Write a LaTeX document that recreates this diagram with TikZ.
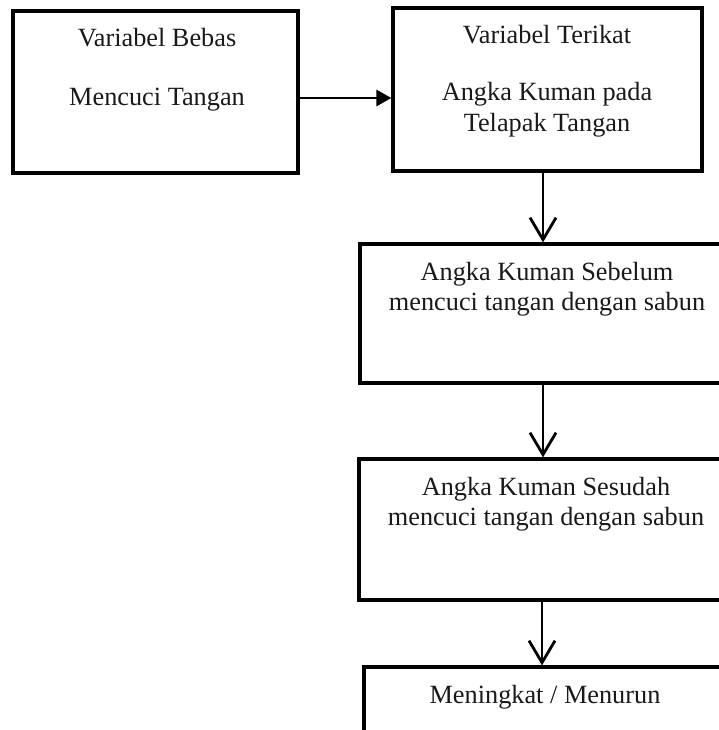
\documentclass[tikz,border=0pt]{standalone}
\usepackage{fontspec}
\setmainfont{Liberation Serif}
\usetikzlibrary{arrows.meta}
\begin{document}
\begin{tikzpicture}[x=1pt,y=-1pt,
  box/.style={draw=black,line width=3.2pt,rectangle,inner sep=0pt},
  lbl/.style={anchor=base,inner sep=0pt,font=\fontsize{26.3}{30}\selectfont,text=black!90},
  conn/.style={line width=2.8pt,draw=black},
  filltip/.style={-{Triangle[length=15pt,width=16pt]}},
  opentip/.style={-{Straight Barb[length=22pt,width=26pt,line width=2.8pt]}}]
\useasboundingbox (0,0) rectangle (719,730);
\clip (0,0) rectangle (719,730);
% boxes
\node[box,minimum width=285pt,minimum height=162pt] (b1) at (155.5,92) {};
\node[box,minimum width=309pt,minimum height=163pt] (b2) at (547.5,89.5) {};
\node[box,minimum width=375pt,minimum height=139pt] (b3) at (547.5,313.5) {};
\node[box,minimum width=377pt,minimum height=141pt] (b4) at (547.5,529.5) {};
\node[box,minimum width=368pt,minimum height=140pt] (b5) at (548,737) {};
% texts
\node[lbl] (t1a) at (157,47) {Variabel Bebas};
\node[lbl] (t1b) at (157,106) {Mencuci Tangan};
\node[lbl] (t2a) at (547,44) {Variabel Terikat};
\node[lbl] (t2b) at (547,101) {Angka Kuman pada};
\node[lbl] (t2c) at (547,132) {Telapak Tangan};
\node[lbl] (t3a) at (547,280) {Angka Kuman Sebelum};
\node[lbl] (t3b) at (547,310) {mencuci tangan dengan sabun};
\node[lbl] (t4a) at (546,495) {Angka Kuman Sesudah};
\node[lbl] (t4b) at (546,525) {mencuci tangan dengan sabun};
\node[lbl] (t5a) at (545,703) {Meningkat / Menurun};
% connectors
\coordinate (h) at (0,98);
\coordinate (v) at (543,0);
\coordinate (v2) at (542,0);
\draw[conn,filltip] (b1.east |- h) -- (b2.west |- h);
\draw[conn,opentip] (b2.south -| v) -- (b3.north -| v);
\draw[conn,opentip] (b3.south -| v) -- (b4.north -| v);
\draw[conn,opentip] (b4.south -| v2) -- (b5.north -| v2);
\end{tikzpicture}
\end{document}
